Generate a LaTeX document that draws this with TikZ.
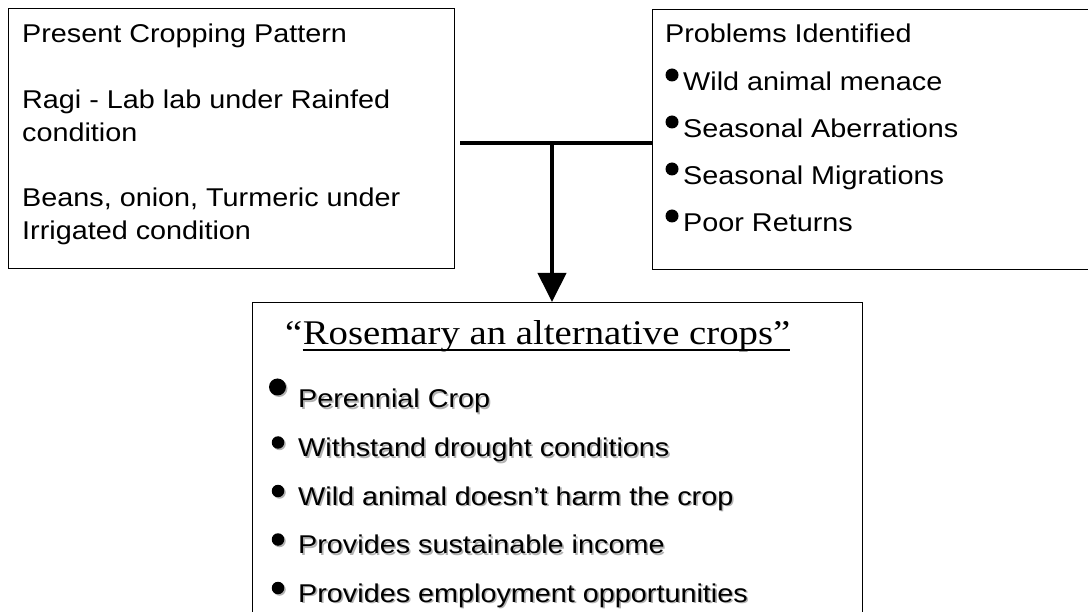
\documentclass[tikz,border=0pt]{standalone}
\usepackage{fontspec}
\setmainfont{Liberation Sans}[FakeStretch=1.12]
\newfontfamily\romanfont{Liberation Serif}[FakeStretch=1.12]
\usetikzlibrary{arrows.meta,shadows}

% grey offset copy behind a text
\newcommand{\shd}[1]{\makebox[0pt][l]{\hspace{1.6pt}\raisebox{-1.6pt}{\color{black!30}#1}}#1}

\begin{document}
\begin{tikzpicture}[x=1pt,y=-1pt,
  box/.style={draw,line width=1.3pt,inner sep=0pt,anchor=north west},
  txt/.style={anchor=base west,inner sep=0pt,font=\fontsize{25.7}{33}\selectfont},
  ttlfont/.style={anchor=base west,inner sep=0pt,font=\romanfont\fontsize{34.6}{40}\selectfont},
  dot/.style={circle,fill=black,inner sep=0pt,minimum size=#1},
  sdot/.style={dot=#1,drop shadow={shadow xshift=1.5pt,shadow yshift=-1.5pt,fill=black!30,opacity=1}},
  bar/.style={line width=4pt}]

\useasboundingbox (0,0) rectangle (1088,612);

% the three boxes
\node[box,minimum width=446pt,minimum height=260pt] (crop) at (8,8) {};
\node[box,minimum width=450pt,minimum height=260pt] (prob) at (652,9) {};
\node[box,minimum width=610pt,minimum height=330pt] (alt) at (252,302) {};

% present cropping pattern
\node[txt] (c1) at (22,43) {Present Cropping Pattern};
\node[txt] (c2) at (22,109) {Ragi - Lab lab under Rainfed};
\node[txt] (c3) at (22,142) {condition};
\node[txt] (c4) at (22,207) {Beans, onion, Turmeric under};
\node[txt] (c5) at (22,240) {Irrigated condition};

% problems identified
\node[txt] (p0) at (665,43) {Problems Identified};
\node[txt] (p1) at (683,91) {Wild animal menace};
\node[txt] (p2) at (683,138) {Seasonal Aberrations};
\node[txt] (p3) at (683,185) {Seasonal Migrations};
\node[txt] (p4) at (683,232) {Poor Returns};
\node[dot=13pt] (pd1) at ([shift={(-11pt,16pt)}]p1.base west) {};
\node[dot=13pt] (pd2) at ([shift={(-11pt,16pt)}]p2.base west) {};
\node[dot=13pt] (pd3) at ([shift={(-11pt,16pt)}]p3.base west) {};
\node[dot=13pt] (pd4) at ([shift={(-11pt,16pt)}]p4.base west) {};

% rosemary
\node[ttlfont] (q) at (285,345) {“};
\node[ttlfont] (ttl) at (q.base east) {Rosemary an alternative crops”};
\draw[line width=2pt] ([yshift=-5pt]ttl.base west) -- ([yshift=-5pt]ttl.base east);

\node[txt] (a1) at (298,408) {\shd{Perennial Crop}};
\node[txt] (a2) at (298,456.5) {\shd{Withstand drought conditions}};
\node[txt] (a3) at (298,505) {\shd{Wild animal doesn’t harm the crop}};
\node[txt] (a4) at (298,553.5) {\shd{Provides sustainable income}};
\node[txt] (a5) at (298,602) {\shd{Provides employment opportunities}};
\node[sdot=17pt] (ad1) at ([shift={(-20.5pt,21pt)}]a1.base west) {};
\node[sdot=12.5pt] (ad2) at ([shift={(-20pt,14pt)}]a2.base west) {};
\node[sdot=12.5pt] (ad3) at ([shift={(-20pt,14pt)}]a3.base west) {};
\node[sdot=12.5pt] (ad4) at ([shift={(-20pt,14pt)}]a4.base west) {};
\node[sdot=12.5pt] (ad5) at ([shift={(-20pt,14pt)}]a5.base west) {};

% connector
\coordinate (j) at (552,143);
\coordinate (l) at ([xshift=5pt]crop.east);
\draw[bar] (l |- j) -- (prob.west |- j);
\draw[bar,-{Triangle[width=28pt,length=29pt]}] (j) -- (j |- alt.north);
\end{tikzpicture}
\end{document}
